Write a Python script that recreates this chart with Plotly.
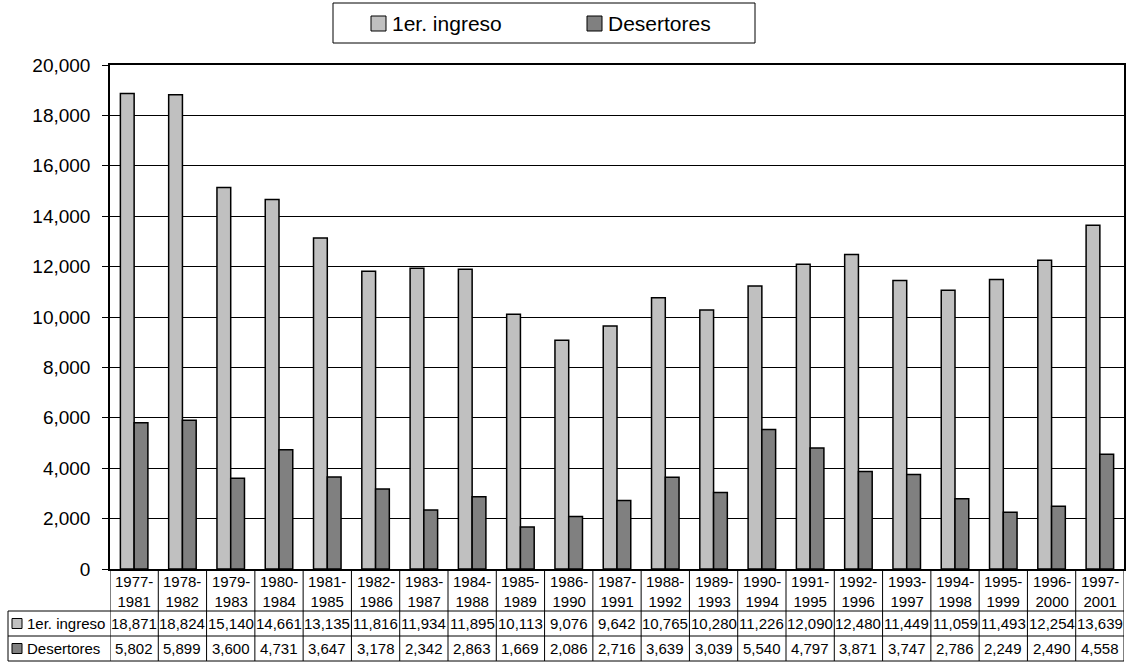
import plotly.graph_objects as go

periods = ["1977-1981", "1978-1982", "1979-1983", "1980-1984", "1981-1985", "1982-1986",
           "1983-1987", "1984-1988", "1985-1989", "1986-1990", "1987-1991", "1988-1992",
           "1989-1993", "1990-1994", "1991-1995", "1992-1996", "1993-1997", "1994-1998",
           "1995-1999", "1996-2000", "1997-2001"]
ingreso = [18871, 18824, 15140, 14661, 13135, 11816, 11934, 11895, 10113, 9076, 9642,
           10765, 10280, 11226, 12090, 12480, 11449, 11059, 11493, 12254, 13639]
desertores = [5802, 5899, 3600, 4731, 3647, 3178, 2342, 2863, 1669, 2086, 2716, 3639,
              3039, 5540, 4797, 3871, 3747, 2786, 2249, 2490, 4558]
series_names = ["1er. ingreso", "Desertores"]
colors = ["#C0C0C0", "#808080"]

W, H = 1127, 663
ML, MR, MT, MB = 110, 3, 65, 94
PW, PH = W - ML - MR, H - MT - MB
FONT = "Arial, Liberation Sans, sans-serif"
TFS = 15


def px(x):
    return (x - ML) / PW


def py(y):
    return (H - MB - y) / PH


fig = go.Figure()
for name, vals, col in zip(series_names, [ingreso, desertores], colors):
    fig.add_trace(go.Bar(x=list(range(len(periods))), y=vals, name=name,
                         marker=dict(color=col, line=dict(color="black", width=1.5)),
                         showlegend=False))

shapes = []
annotations = []
n = len(periods)
# table grid
row_lines = [611, 636, 661]
for yy in row_lines:
    shapes.append(dict(type="line", xref="paper", yref="paper", x0=px(8), x1=px(W - MR),
                       y0=py(yy), y1=py(yy), line=dict(color="black", width=1)))
for i in range(n + 1):
    shapes.append(dict(type="line", xref="x", yref="paper", x0=i - 0.5, x1=i - 0.5,
                       y0=py(569), y1=py(661), line=dict(color="black", width=1)))
shapes.append(dict(type="line", xref="paper", yref="paper", x0=px(8), x1=px(8),
                   y0=py(611), y1=py(661), line=dict(color="black", width=1)))

# table text
for i, p in enumerate(periods):
    a, b = p.split("-")
    annotations.append(dict(x=i, y=py(591), xref="x", yref="paper", text=a + "-<br>" + b,
                            showarrow=False, font=dict(size=TFS, color="black", family=FONT),
                            xanchor="center", yanchor="middle"))
    annotations.append(dict(x=i, y=py(623.5), xref="x", yref="paper", text=f"{ingreso[i]:,}",
                            showarrow=False, font=dict(size=TFS, color="black", family=FONT),
                            xanchor="center", yanchor="middle"))
    annotations.append(dict(x=i, y=py(648.5), xref="x", yref="paper", text=f"{desertores[i]:,}",
                            showarrow=False, font=dict(size=TFS, color="black", family=FONT),
                            xanchor="center", yanchor="middle"))

for k, (name, col) in enumerate(zip(series_names, colors)):
    yc = [623.5, 648.5][k]
    shapes.append(dict(type="rect", xref="paper", yref="paper", x0=px(12), x1=px(22),
                       y0=py(yc + 5), y1=py(yc - 5), fillcolor=col,
                       line=dict(color="black", width=1)))
    annotations.append(dict(x=px(25), y=py(yc), xref="paper", yref="paper", text=name,
                            showarrow=False, font=dict(size=TFS, color="black", family=FONT),
                            xanchor="left", yanchor="middle"))

# legend box
shapes.append(dict(type="rect", xref="paper", yref="paper", x0=px(333), x1=px(755),
                   y0=py(43), y1=py(3), line=dict(color="black", width=1), fillcolor="white"))
for k, (name, col) in enumerate(zip(series_names, colors)):
    sx = [371, 587][k]
    shapes.append(dict(type="rect", xref="paper", yref="paper", x0=px(sx), x1=px(sx + 15),
                       y0=py(31), y1=py(16), fillcolor=col, line=dict(color="black", width=1)))
    annotations.append(dict(x=px(sx + 19), y=py(23.5), xref="paper", yref="paper", text=name,
                            showarrow=False, font=dict(size=21, color="black", family=FONT),
                            xanchor="left", yanchor="middle"))

fig.update_layout(
    width=W, height=H,
    margin=dict(l=ML, r=MR, t=MT, b=MB, autoexpand=False),
    paper_bgcolor="white", plot_bgcolor="white",
    barmode="group", bargap=0.43, bargroupgap=0,
    font=dict(family=FONT, color="black"),
    shapes=shapes, annotations=annotations,
    xaxis=dict(range=[-0.5, n - 0.5], showticklabels=False, showgrid=False,
               showline=True, linecolor="black", linewidth=1.5, mirror=True, ticks="",
               zeroline=False),
    yaxis=dict(range=[0, 20000], dtick=2000, tickformat=",", showgrid=True,
               gridcolor="black", gridwidth=1, showline=True, linecolor="black",
               linewidth=1.5, mirror=True, ticks="outside", ticklen=6, tickcolor="black",
               tickfont=dict(size=19, family=FONT, color="black"), ticklabelstandoff=8,
               zeroline=False),
)

fig.write_html("out.html", config={"displayModeBar": False},
               post_script="document.body.style.margin='0';document.body.style.overflow='hidden';")
